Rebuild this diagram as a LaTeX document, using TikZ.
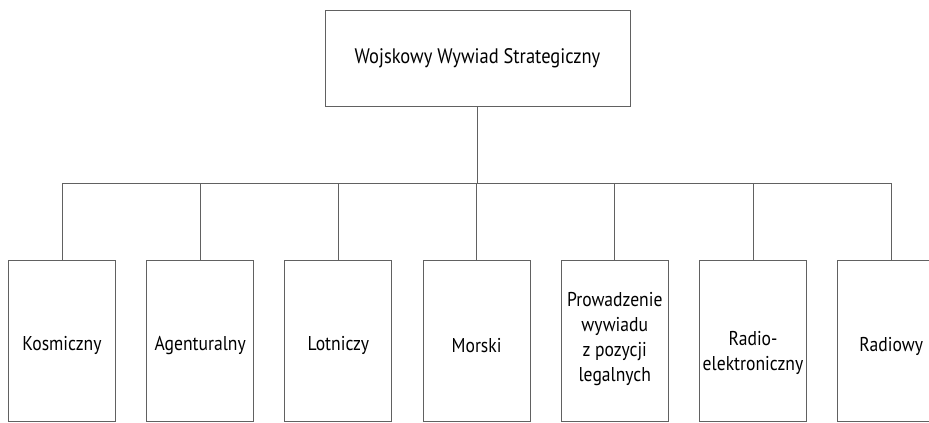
\documentclass[tikz,border=0pt]{standalone}
\usepackage{fontspec}
\setmainfont{PT Sans}[FakeStretch=0.88]
\begin{document}
\begin{tikzpicture}[x=1pt, y=-1pt,
  wire/.style={draw=black!62, line width=0.9pt},
  headbox/.style={wire, minimum width=305pt, minimum height=96pt, inner sep=0pt,
    anchor=north, font=\fontsize{21}{25}\selectfont},
  unitbox/.style={wire, minimum width=107pt, minimum height=161pt, inner sep=0pt,
    anchor=north},
  unittext/.style={align=center, inner sep=0pt, font=\fontsize{20}{25}\selectfont}]
\useasboundingbox (0,0) rectangle (929,423);
\clip (0,0) rectangle (929,423);

% head of the structure
\node[headbox] (wws) at (477.5,10) {Wojskowy Wywiad Strategiczny};

% branch units
\node[unitbox, label={[unittext, yshift=-5pt]center:Kosmiczny}]   (kos) at (62,260)    {};
\node[unitbox, label={[unittext, yshift=-5pt]center:Agenturalny}] (age) at (200.2,260) {};
\node[unitbox, label={[unittext, yshift=-5pt]center:Lotniczy}]    (lot) at (338.4,260) {};
\node[unitbox, label={[unittext, yshift=-5pt]center:Morski}]      (mor) at (476.6,260) {};
\node[unitbox, label={[unittext, yshift=2pt]center:{Prowadzenie\\wywiadu\\z pozycji\\legalnych}}] (pro) at (614.8,260) {};
\node[unitbox, label={[unittext, yshift=-12pt]center:{Radio-\\elektroniczny}}] (rel) at (753,260) {};
\node[unitbox, label={[unittext, yshift=-6pt]center:Radiowy}]     (rad) at (891.2,260) {};

% distribution bus
\coordinate (bus) at (477.5,183);
\draw[wire] (wws.south) -- (bus);
\foreach \u in {kos,age,lot,mor,pro,rel,rad}
  \draw[wire] (bus) -| (\u.north);
\end{tikzpicture}
\end{document}
